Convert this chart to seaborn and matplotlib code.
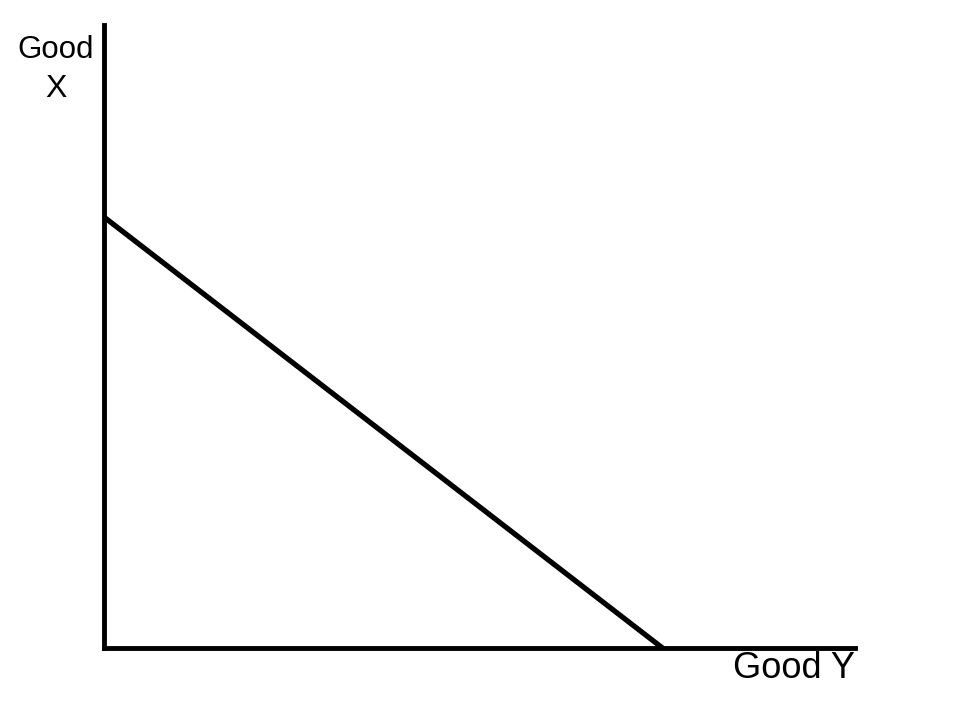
import matplotlib
matplotlib.use("Agg")
import matplotlib.pyplot as plt
import seaborn as sns
import pandas as pd

# budget line endpoints (axis units 0-10)
good_y = [0.0, 7.44]
good_x = [6.92, 0.0]

sns.set_style("white")
plt.rcParams["font.family"] = ["Liberation Sans", "DejaVu Sans"]

fig = plt.figure(figsize=(9.6, 7.2), dpi=100)
ax = fig.add_axes([0.1083, 0.1, 0.782, 0.865])

data = pd.DataFrame({"y": good_y, "x": good_x})
sns.lineplot(data=data, x="y", y="x", color="black", linewidth=3.8, ax=ax)

ax.set_xlim(0, 10)
ax.set_ylim(0, 10)
ax.set_xticks([])
ax.set_yticks([])
ax.set_xlabel("")
ax.set_ylabel("")
for side in ["top", "right"]:
    ax.spines[side].set_visible(False)
for side in ["left", "bottom"]:
    ax.spines[side].set_linewidth(3.5)
    ax.spines[side].set_color("black")

fig.text(0.058, 0.930, "Good", ha="center", va="center", fontsize=22.5, color="black")
fig.text(0.058, 0.877, "X", ha="center", va="center", fontsize=23, color="black")
fig.text(0.891, 0.071, "Good Y", ha="right", va="center", fontsize=26, color="black")

fig.savefig("out.png", dpi=100, facecolor="white")
